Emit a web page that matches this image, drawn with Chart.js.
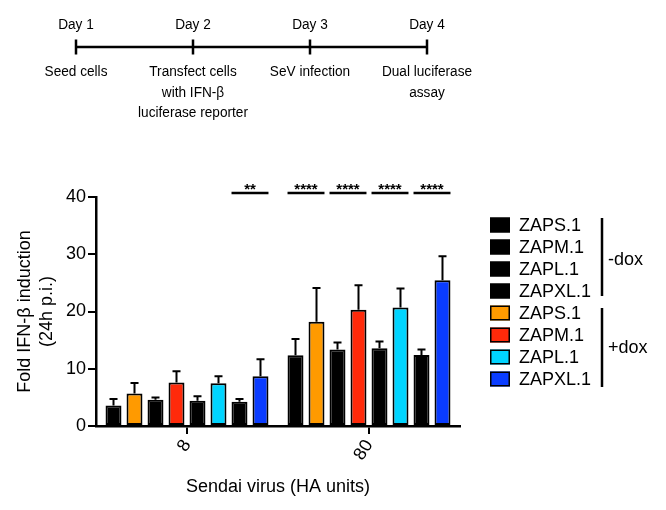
<!DOCTYPE html>
<html>
<head>
<meta charset="utf-8">
<script src="https://cdn.jsdelivr.net/npm/chart.js@4/dist/chart.umd.min.js"></script>
<style>
  html, body { margin: 0; padding: 0; background: #ffffff; }
  #wrap { width: 666px; height: 510px; }
  canvas { display: block; }
</style>
</head>
<body>
<div id="wrap"><canvas id="c" width="666" height="510"></canvas></div>
<script>
// ---------- data ----------
const categories = ['8', '80'];               // Sendai virus (HA units)
const yTicksMin = 0, yTicksMax = 40, yTicksStep = 10;

const zapsMinus  = [3.6, 12.35];
const zapsPlus   = [5.66, 18.2];
const zapmMinus  = [4.6, 13.35];
const zapmPlus   = [7.58, 20.3];
const zaplMinus  = [4.4, 13.6];
const zaplPlus   = [7.45, 20.7];
const zapxlMinus = [4.25, 12.4];
const zapxlPlus  = [8.7, 25.45];

const zapsMinusErr  = [1.1, 2.85];
const zapsPlusErr   = [1.85, 5.9];
const zapmMinusErr  = [0.4, 1.25];
const zapmPlusErr   = [2.0, 4.3];
const zaplMinusErr  = [0.8, 1.15];
const zaplPlusErr   = [1.25, 3.3];
const zapxlMinusErr = [0.45, 0.95];
const zapxlPlusErr  = [2.95, 4.2];

const seriesNames = ['ZAPS.1', 'ZAPM.1', 'ZAPL.1', 'ZAPXL.1'];
const groupNames  = ['-dox', '+dox'];

// significance: [datasetA, datasetB, categoryIndex]
const sigPairs  = [[6, 7, 0], [0, 1, 1], [2, 3, 1], [4, 5, 1], [6, 7, 1]];
const sigLabels = ['**', '****', '****', '****', '****'];
const sigLevel  = 40.7;

// timeline
const days  = ['Day 1', 'Day 2', 'Day 3', 'Day 4'];
const steps = [['Seed cells'], ['Transfect cells', 'with IFN-\u03B2', 'luciferase reporter'], ['SeV infection'], ['Dual luciferase', 'assay']];

// ---------- styles ----------
const FONT = '"Liberation Sans", Arial, Helvetica, sans-serif';
const minusColor = '#000000';
const plusColors = ['#FF9A00', '#FF2A0A', '#00D4FF', '#0A3CFF'];

const valuesList = [zapsMinus, zapsPlus, zapmMinus, zapmPlus, zaplMinus, zaplPlus, zapxlMinus, zapxlPlus];
const errList = [zapsMinusErr, zapsPlusErr, zapmMinusErr, zapmPlusErr, zaplMinusErr, zaplPlusErr, zapxlMinusErr, zapxlPlusErr];

const datasets = valuesList.map((vals, i) => {
  const s = Math.floor(i / 2);
  const plus = i % 2 === 1;
  return {
    label: seriesNames[s] + (plus ? ' +dox' : ' -dox'),
    data: vals,
    errors: errList[i],
    backgroundColor: plus ? plusColors[s] : minusColor,
    borderColor: '#000000',
    borderWidth: 2,
    borderSkipped: false,
    categoryPercentage: 0.923,
    barPercentage: 0.76
  };
});

function condensedText(ctx, text, x, y, sx) {
  ctx.save();
  ctx.translate(x, y);
  ctx.scale(sx, 1);
  ctx.fillText(text, 0, 0);
  ctx.restore();
}

const extrasPlugin = {
  id: 'extras',
  afterDatasetsDraw(chart) {
    const ctx = chart.ctx;
    const y = chart.scales.y;
    ctx.save();
    // error bars (upward)
    chart.data.datasets.forEach((ds, di) => {
      const meta = chart.getDatasetMeta(di);
      meta.data.forEach((bar, k) => {
        const v = ds.data[k], e = ds.errors[k];
        const yTop = y.getPixelForValue(v + e);
        const yVal = y.getPixelForValue(v);
        ctx.strokeStyle = '#000';
        ctx.lineWidth = 2;
        ctx.beginPath();
        ctx.moveTo(bar.x, yVal);
        ctx.lineTo(bar.x, yTop);
        ctx.moveTo(bar.x - 4, yTop);
        ctx.lineTo(bar.x + 4, yTop);
        ctx.stroke();
      });
    });
    // significance lines
    const ly = y.getPixelForValue(sigLevel);
    sigPairs.forEach((p, i) => {
      const a = chart.getDatasetMeta(p[0]).data[p[2]];
      const b = chart.getDatasetMeta(p[1]).data[p[2]];
      const x1 = a.x - a.width / 2, x2 = b.x + b.width / 2;
      ctx.strokeStyle = '#000';
      ctx.lineWidth = 2.5;
      ctx.beginPath();
      ctx.moveTo(x1, ly);
      ctx.lineTo(x2, ly);
      ctx.stroke();
      ctx.fillStyle = '#000';
      ctx.font = 'bold 15px ' + FONT;
      ctx.textAlign = 'center';
      ctx.textBaseline = 'alphabetic';
      ctx.fillText(sigLabels[i], (x1 + x2) / 2, ly + 1);
    });
    ctx.restore();
  },
  afterDraw(chart) {
    const ctx = chart.ctx;
    ctx.save();
    // ---- legend ----
    const order = [0, 2, 4, 6, 1, 3, 5, 7];
    ctx.font = '18px ' + FONT;
    ctx.textAlign = 'left';
    ctx.textBaseline = 'middle';
    order.forEach((di, r) => {
      const ds = chart.data.datasets[di];
      const cy = 225 + r * 22;
      ctx.fillStyle = ds.backgroundColor;
      ctx.fillRect(490, cy - 7.5, 20, 15);
      ctx.strokeStyle = '#000';
      ctx.lineWidth = 1.5;
      ctx.strokeRect(490.75, cy - 6.75, 18.5, 13.5);
      ctx.fillStyle = '#000';
      ctx.fillText(seriesNames[Math.floor(di / 2)], 519, cy + 1);
    });
    // brackets
    ctx.strokeStyle = '#000';
    ctx.lineWidth = 2.5;
    ctx.beginPath();
    ctx.moveTo(602, 218); ctx.lineTo(602, 296);
    ctx.moveTo(602, 308); ctx.lineTo(602, 387);
    ctx.stroke();
    ctx.fillStyle = '#000';
    ctx.fillText(groupNames[0], 608, 260);
    ctx.fillText(groupNames[1], 608, 348);

    // ---- timeline ----
    const tx = [76, 193, 310, 427];
    ctx.lineWidth = 2.5;
    ctx.beginPath();
    ctx.moveTo(tx[0], 47); ctx.lineTo(tx[3], 47);
    tx.forEach(x => { ctx.moveTo(x, 39.5); ctx.lineTo(x, 54.5); });
    ctx.stroke();
    ctx.font = '15.5px ' + FONT;
    ctx.textAlign = 'center';
    ctx.textBaseline = 'middle';
    days.forEach((d, i) => condensedText(ctx, d, tx[i], 25, 0.88));
    steps.forEach((lines, i) => {
      lines.forEach((t, j) => condensedText(ctx, t, tx[i], 72 + j * 20.5, 0.88));
    });
    ctx.restore();
  }
};

new Chart(document.getElementById('c'), {
  type: 'bar',
  data: { labels: categories, datasets: datasets },
  options: {
    responsive: false,
    devicePixelRatio: 1,
    animation: false,
    layout: { padding: { left: 0, top: 197, right: 206, bottom: 0 } },
    plugins: { legend: { display: false }, tooltip: { enabled: false } },
    scales: {
      x: {
        afterFit: s => { s.height = 84; },
        grid: { display: true, drawOnChartArea: false, drawTicks: true, tickLength: 8, offset: false, color: '#000', lineWidth: 2 },
        border: { display: true, color: '#000', width: 2.5 },
        ticks: { color: '#000', font: { family: FONT, size: 18 }, minRotation: 58, maxRotation: 58, padding: 2 },
        title: { display: true, text: 'Sendai virus (HA units)', color: '#000', font: { family: FONT, size: 18 }, padding: { top: 0, bottom: 12 } }
      },
      y: {
        min: yTicksMin, max: yTicksMax,
        afterFit: s => { s.width = 96; },
        grid: { display: true, drawOnChartArea: false, drawTicks: true, tickLength: 8, color: '#000', lineWidth: 2 },
        border: { display: true, color: '#000', width: 2.5 },
        ticks: { stepSize: yTicksStep, color: '#000', font: { family: FONT, size: 18 }, padding: 2 },
        title: { display: true, text: ['Fold IFN-\u03B2 induction', '(24h p.i.)'], color: '#000', font: { family: FONT, size: 18, lineHeight: 1.22 }, padding: { top: 14, bottom: 0 } }
      }
    }
  },
  plugins: [extrasPlugin]
});
</script>
</body>
</html>
